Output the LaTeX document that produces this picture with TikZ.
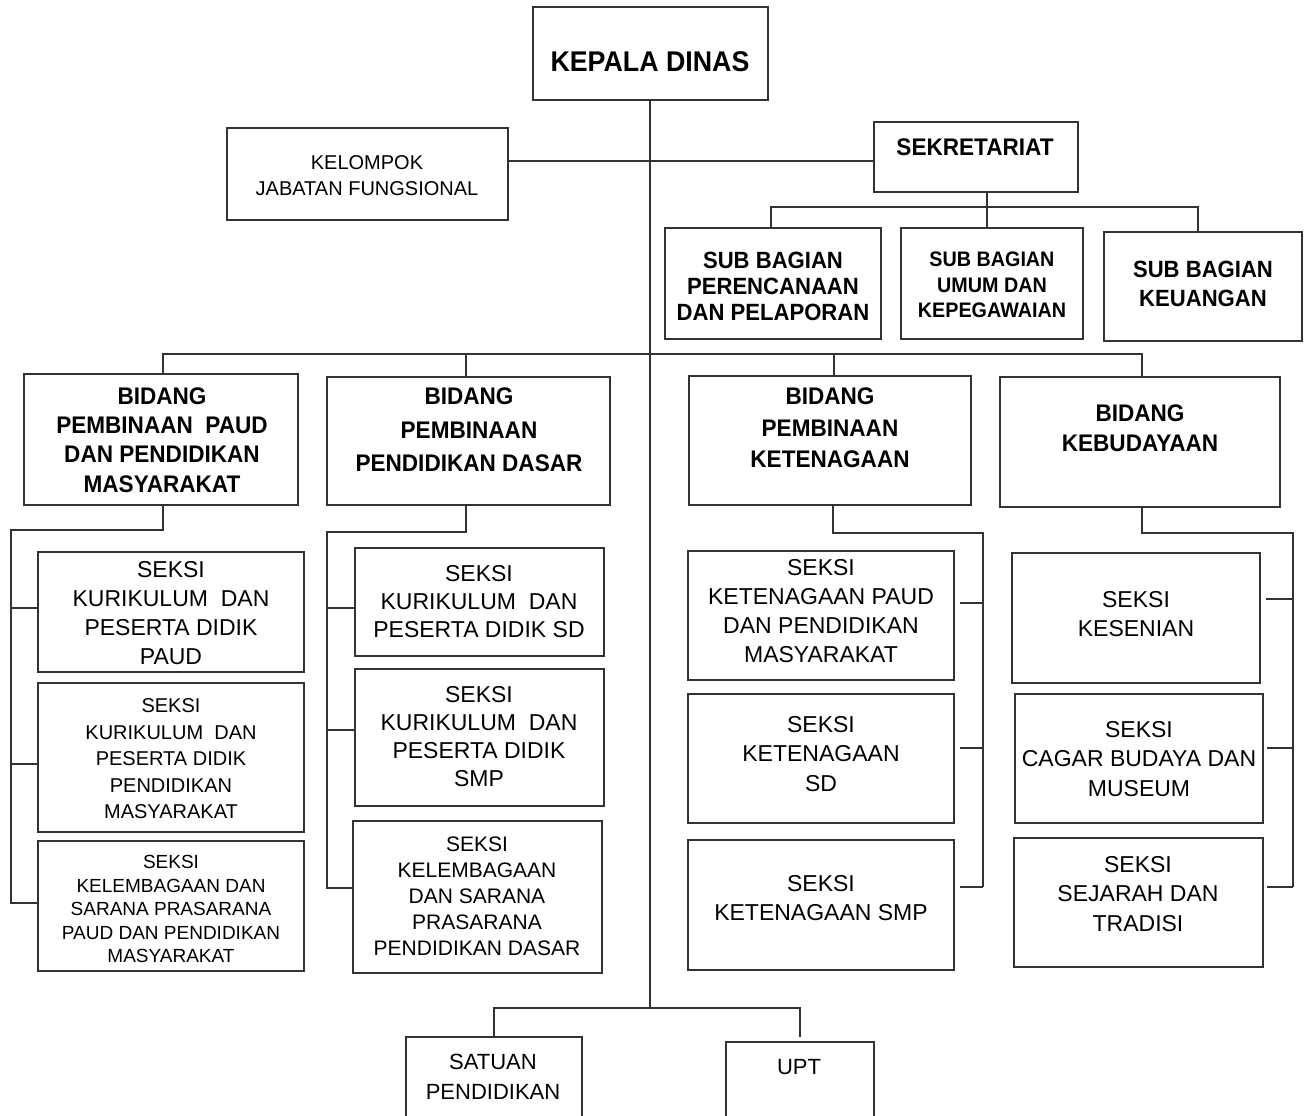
\documentclass[tikz,border=0pt]{standalone}
\usepackage{fontspec}
\setmainfont{Liberation Sans}
\newfontfamily\condf[FakeStretch=0.94]{Liberation Sans}
\usetikzlibrary{fit}
\newcommand\fsz[2]{\fontsize{#1}{#2}\selectfont}
\begin{document}
\begin{tikzpicture}[x=1pt,y=-1pt,
  box/.style={draw=black!80, line width=1.5pt, inner sep=0pt, outer sep=0pt},
  conn/.style={draw=black!80, line width=1.6pt},
  txt/.style={align=center, inner sep=0pt, text=black},
  bt/.style={txt, font=\condf\bfseries\fsz{#1}{#1}},
]
\useasboundingbox (0,0) rectangle (1304,1116);
\clip (0,0) rectangle (1304,1116);
\fill[white] (0,0) rectangle (1304,1116);

% ---------- boxes ----------
\node[box, line width=2.2pt, fit={(533,7)(768,100)}] (kepala) {};
\node[box, fit={(227,128)(508,220)}] (kelompok) {};
\node[box, fit={(874,122)(1078,192)}] (sek) {};
\node[box, fit={(665,228)(881,339)}] (sub1) {};
\node[box, fit={(901,228)(1083,339)}] (sub2) {};
\node[box, line width=2.2pt, fit={(1104,232)(1302,341)}] (sub3) {};
\node[box, fit={(24,374)(298,505)}] (b1) {};
\node[box, fit={(327,377)(610,505)}] (b2) {};
\node[box, fit={(689,376)(971,505)}] (b3) {};
\node[box, fit={(1000,377)(1280,507)}] (b4) {};
\node[box, fit={(38,552)(304,672)}] (s11) {};
\node[box, fit={(38,683)(304,832)}] (s12) {};
\node[box, fit={(38,841)(304,971)}] (s13) {};
\node[box, fit={(355,548)(604,656)}] (s21) {};
\node[box, fit={(355,669)(604,806)}] (s22) {};
\node[box, fit={(353,821)(602,973)}] (s23) {};
\node[box, fit={(688,551)(954,680)}] (s31) {};
\node[box, fit={(688,694)(954,823)}] (s32) {};
\node[box, fit={(688,840)(954,970)}] (s33) {};
\node[box, fit={(1012,553)(1260,683)}] (s41) {};
\node[box, fit={(1015,694)(1263,823)}] (s42) {};
\node[box, fit={(1014,838)(1263,967)}] (s43) {};
\node[box, fit={(406,1037)(582,1130)}] (satuan) {};
\node[box, fit={(726,1042)(874,1130)}] (upt) {};

% ---------- texts ----------
\node[txt, font=\condf\bfseries\fsz{28.5}{34}] (tkepala) at (650,62) {KEPALA DINAS};
\node[txt, font=\fsz{20}{26}] (tkelompok) at (367,176) {KELOMPOK\\JABATAN FUNGSIONAL};
\node[txt, font=\condf\bfseries\fsz{24}{28}] (tsek) at (975,147) {SEKRETARIAT};
\node[txt, font=\condf\bfseries\fsz{23.5}{26}] (tsub1) at (773,286) {SUB BAGIAN\\PERENCANAAN\\DAN PELAPORAN};
\node[txt, font=\condf\bfseries\fsz{21}{25.5}] (tsub2) at (992,285) {SUB BAGIAN\\UMUM DAN\\KEPEGAWAIAN};
\node[txt, font=\condf\bfseries\fsz{23.5}{29}] (tsub3) at (1203,284) {SUB BAGIAN\\KEUANGAN};
\node[txt, font=\condf\bfseries\fsz{24}{29.3}] (tb1) at (162,440) {BIDANG\\PEMBINAAN\ \ PAUD\\DAN PENDIDIKAN\\MASYARAKAT};
\node[txt, font=\condf\bfseries\fsz{24}{33.5}] (tb2) at (469,430) {BIDANG\\PEMBINAAN\\PENDIDIKAN DASAR};
\node[txt, font=\condf\bfseries\fsz{24}{31.5}] (tb3) at (830,428) {BIDANG\\PEMBINAAN\\KETENAGAAN};
\node[txt, font=\condf\bfseries\fsz{24}{30}] (tb4) at (1140,428) {BIDANG\\KEBUDAYAAN};

\node[txt, font=\fsz{23}{29}] (ts11) at (171,613) {SEKSI\\KURIKULUM\ \ DAN\\PESERTA DIDIK\\PAUD};
\node[txt, font=\fsz{20}{26.5}] (ts12) at (171,759) {SEKSI\\KURIKULUM\ \ DAN\\PESERTA DIDIK\\PENDIDIKAN\\MASYARAKAT};
\node[txt, font=\fsz{19}{23.5}] (ts13) at (171,909) {SEKSI\\KELEMBAGAAN DAN\\SARANA PRASARANA\\PAUD DAN PENDIDIKAN\\MASYARAKAT};
\node[txt, font=\fsz{23}{28}] (ts21) at (479,602) {SEKSI\\KURIKULUM\ \ DAN\\PESERTA DIDIK SD};
\node[txt, font=\fsz{23}{28}] (ts22) at (479,737) {SEKSI\\KURIKULUM\ \ DAN\\PESERTA DIDIK\\SMP};
\node[txt, font=\fsz{21}{26}] (ts23) at (477,896) {SEKSI\\KELEMBAGAAN\\DAN SARANA\\PRASARANA\\PENDIDIKAN DASAR};
\node[txt, font=\fsz{23}{29}] (ts31) at (821,611) {SEKSI\\KETENAGAAN PAUD\\DAN PENDIDIKAN\\MASYARAKAT};
\node[txt, font=\fsz{23}{29.5}] (ts32) at (821,754) {SEKSI\\KETENAGAAN\\SD};
\node[txt, font=\fsz{23}{29}] (ts33) at (821,898) {SEKSI\\KETENAGAAN SMP};
\node[txt, font=\fsz{23}{29}] (ts41) at (1136,614) {SEKSI\\KESENIAN};
\node[txt, font=\fsz{23}{29.5}] (ts42) at (1139,759) {SEKSI\\CAGAR BUDAYA DAN\\MUSEUM};
\node[txt, font=\fsz{23}{29.5}] (ts43) at (1138,894) {SEKSI\\SEJARAH DAN\\TRADISI};
\node[txt, font=\fsz{22}{30}] (tsatuan) at (493,1077) {SATUAN\\PENDIDIKAN};
\node[txt, font=\fsz{22}{30}] (tupt) at (799,1067) {UPT};

% ---------- connectors ----------
\coordinate (jb) at (650,1008);
\draw[conn] (kepala.south -| 650,0) -- (jb);
\coordinate (ks) at (650,161);
\draw[conn] (kelompok.east |- ks) -- (sek.west |- ks);
\coordinate (sh) at (987,207);
\draw[conn] (sek.south -| sh) -- (sh);
\draw[conn] (sub1.north -| 771,0) |- (sh) -| (sub3.north -| 1198,0);
\draw[conn] (sh) -- (sub2.north -| sh);

\coordinate (bl) at (163,354);
\coordinate (br) at (1142,354);
\draw[conn] (b1.north -| bl) -- (bl) -- (br) -- (b4.north -| br);
\draw[conn] (b2.north -| 466,0) -- (466,354);
\draw[conn] (b3.north -| 834,0) -- (834,354);

% column 1
\draw[conn] (b1.south -| 163,0) -- (163,530) -- (11,530) -- (11,903) -- (s13.west |- 0,903);
\draw[conn] (11,608) -- (s11.west |- 0,608);
\draw[conn] (11,764) -- (s12.west |- 0,764);
% column 2
\draw[conn] (b2.south -| 466,0) -- (466,532) -- (327,532) -- (327,888) -- (s23.west |- 0,888);
\draw[conn] (327,608) -- (s21.west |- 0,608);
\draw[conn] (327,730) -- (s22.west |- 0,730);
% column 3
\draw[conn] (b3.south -| 833,0) -- (833,533) -- (983,533) -- (983,887);
\draw[conn, shorten >=6pt] (983,603) -- (s31.east |- 0,603);
\draw[conn, shorten >=6pt] (983,748) -- (s32.east |- 0,748);
\draw[conn, shorten >=6pt] (983,887) -- (s33.east |- 0,887);
% column 4
\draw[conn] (b4.south -| 1142,0) -- (1142,533) -- (1293,533) -- (1293,887);
\draw[conn, shorten >=6pt] (1293,599) -- (s41.east |- 0,599);
\draw[conn, shorten >=4pt] (1293,748) -- (s42.east |- 0,748);
\draw[conn, shorten >=4pt] (1293,887) -- (s43.east |- 0,887);

% bottom
\draw[conn, shorten >=5pt] (satuan.north) |- (jb) -| (upt.north);
\end{tikzpicture}
\end{document}
